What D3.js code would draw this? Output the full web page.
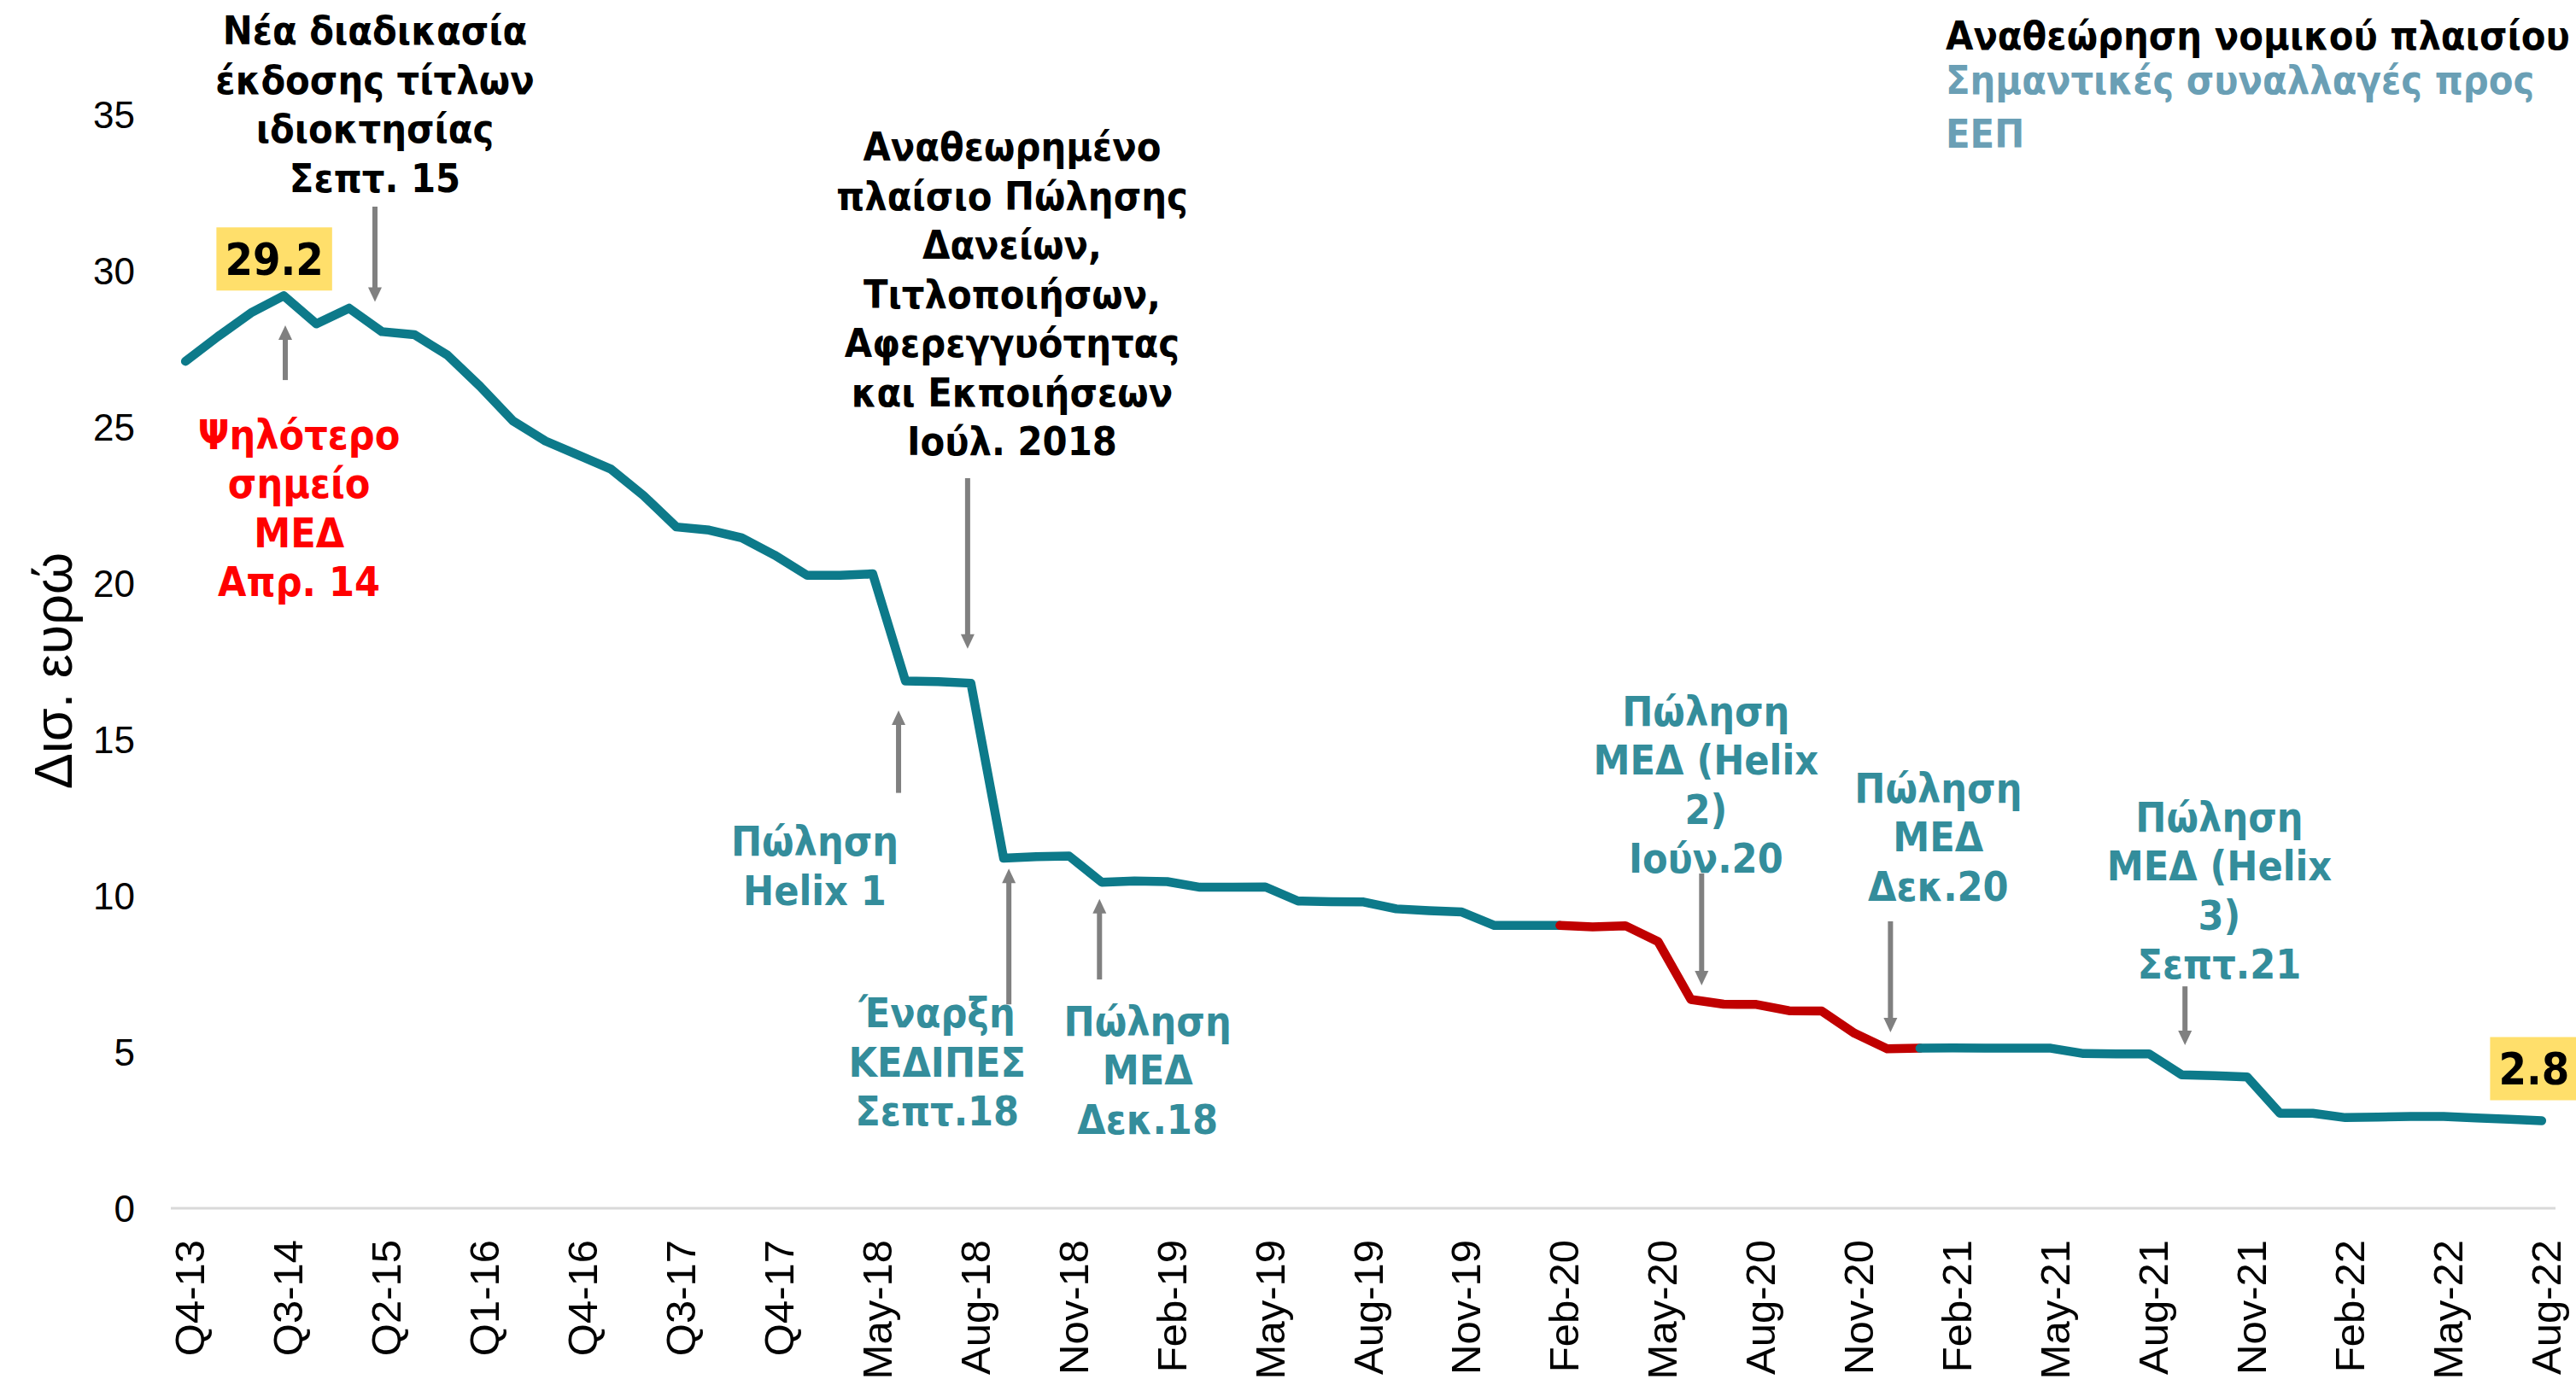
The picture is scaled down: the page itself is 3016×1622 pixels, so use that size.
<!DOCTYPE html>
<html>
<head>
<meta charset="utf-8">
<script src="https://cdnjs.cloudflare.com/ajax/libs/d3/7.8.5/d3.min.js"></script>
<style>
  body { margin: 0; background: #fff; }
  svg { display: block; }
  .note { font-family: "DejaVu Sans Condensed", "DejaVu Sans", sans-serif; font-stretch: condensed; font-weight: bold; }
</style>
</head>
<body>
<div id="chart"></div>
<script>
/**
 * DATA
 * */
const categories = [
  "Q4-13", "Q1-14", "Q2-14", "Q3-14", "Q4-14", "Q1-15", "Q2-15", "Q3-15", "Q4-15",
  "Q1-16", "Q2-16", "Q3-16", "Q4-16", "Q1-17", "Q2-17", "Q3-17", "Oct-17", "Nov-17",
  "Q4-17", "Q1-18", "Apr-18", "May-18", "Jun-18", "Jul-18", "Aug-18", "Sep-18", "Oct-18",
  "Nov-18", "Dec-18", "Jan-19", "Feb-19", "Mar-19", "Apr-19", "May-19", "Jun-19", "Jul-19",
  "Aug-19", "Sep-19", "Oct-19", "Nov-19", "Dec-19", "Jan-20", "Feb-20", "Mar-20", "Apr-20",
  "May-20", "Jun-20", "Jul-20", "Aug-20", "Sep-20", "Oct-20", "Nov-20", "Dec-20", "Jan-21",
  "Feb-21", "Mar-21", "Apr-21", "May-21", "Jun-21", "Jul-21", "Aug-21", "Sep-21", "Oct-21",
  "Nov-21", "Dec-21", "Jan-22", "Feb-22", "Mar-22", "Apr-22", "May-22", "Jun-22", "Jul-22",
  "Aug-22"
];

// ΜΕΔ, δισ. ευρώ
const npe = [
  27.1, 27.9, 28.65, 29.2, 28.3, 28.8, 28.05, 27.95, 27.3,
  26.3, 25.2, 24.55, 24.1, 23.65, 22.8, 21.8, 21.7, 21.45,
  20.9, 20.25, 20.25, 20.3, 16.87, 16.85, 16.8, 11.2, 11.25,
  11.27, 10.43, 10.47, 10.45, 10.27, 10.27, 10.28, 9.83, 9.81,
  9.8, 9.58, 9.52, 9.48, 9.05, 9.05, 9.05, 9.0, 9.04,
  8.53, 6.68, 6.53, 6.52, 6.32, 6.31, 5.6, 5.1, 5.12,
  5.13, 5.12, 5.12, 5.12, 4.95, 4.94, 4.94, 4.27, 4.24,
  4.2, 3.04, 3.04, 2.9, 2.92, 2.94, 2.94, 2.89, 2.85,
  2.8
];

// every third category gets a label
const tickLabels = categories.filter((d, i) => i % 3 === 0);
const yTicks = [0, 5, 10, 15, 20, 25, 30, 35];

// red stretch of the line (legal framework revision)
const redFrom = "Feb-20", redTo = "Jan-21";

// value call-outs
const callouts = [
  { cat: "Q3-14", text: "29.2", dx: -11, dy: -43 },
  { cat: "Aug-22", text: "2.8", dx: -9, dy: -61 }
];

// arrows: fractional category position, tail value, tip value
const arrows = [
  { pos: 5.79, from: 32.05, to: 29.0 },
  { pos: 3.05, from: 26.5, to: 28.25 },
  { pos: 23.9, from: 23.36, to: 17.9 },
  { pos: 21.79, from: 13.29, to: 15.93 },
  { pos: 25.16, from: 6.52, to: 10.87 },
  { pos: 27.93, from: 7.32, to: 9.9 },
  { pos: 46.33, from: 10.71, to: 7.13 },
  { pos: 52.1, from: 9.18, to: 5.63 },
  { pos: 61.1, from: 7.1, to: 5.22 }
];

// text notes: centre position, baseline value of first line
const notes = [
  { pos: 5.79, v: 37.24, color: "#000000",
    lines: ["Νέα διαδικασία", "έκδοσης τίτλων", "ιδιοκτησίας", "Σεπτ. 15"] },
  { pos: 3.47, v: 24.3, color: "#FF0000",
    lines: ["Ψηλότερο", "σημείο", "ΜΕΔ", "Απρ. 14"] },
  { pos: 25.26, v: 33.52, color: "#000000",
    lines: ["Αναθεωρημένο", "πλαίσιο Πώλησης", "Δανείων,", "Τιτλοποιήσων,", "Αφερεγγυότητας", "και Εκποιήσεων", "Ιούλ. 2018"] },
  { pos: 19.23, v: 11.28, color: "#348D9B", lines: ["Πώληση", "Helix 1"] },
  { pos: 22.97, v: 5.79, color: "#348D9B", lines: ["Έναρξη", "ΚΕΔΙΠΕΣ", "Σεπτ.18"] },
  { pos: 29.4, v: 5.52, color: "#348D9B", lines: ["Πώληση", "ΜΕΔ", "Δεκ.18"] },
  { pos: 46.46, v: 15.45, color: "#348D9B", lines: ["Πώληση", "ΜΕΔ (Helix", "2)", "Ιούν.20"] },
  { pos: 53.56, v: 12.98, color: "#348D9B", lines: ["Πώληση", "ΜΕΔ", "Δεκ.20"] },
  { pos: 62.15, v: 12.06, color: "#348D9B", lines: ["Πώληση", "ΜΕΔ (Helix", "3)", "Σεπτ.21"] }
];

const legendLines = [
  { text: "Αναθεώρηση νομικού πλαισίου", color: "#000000" },
  { text: "Σημαντικές συναλλαγές προς", color: "#6A9FB5" },
  { text: "ΕΕΠ", color: "#6A9FB5" }
];

/**
 * CONSTANTS
 * */
const width = 3016, height = 1622;
const lineColor = "#0D7A8A", redColor = "#C00000", arrowColor = "#808080";
const lineH = 57.5;

const svg = d3.select("#chart").append("svg")
  .attr("width", width)
  .attr("height", height);

const x = d3.scalePoint()
  .domain(categories)
  .range([198, 2995])
  .padding(0.5);

const y = d3.scaleLinear()
  .domain([0, 35])
  .range([1415, 134]);

const xAt = p => x(categories[0]) + p * x.step();

// y axis ticks (no line)
svg.append("g")
  .selectAll("text")
  .data(yTicks)
  .join("text")
  .attr("x", 158)
  .attr("y", d => y(d))
  .attr("dy", "0.36em")
  .attr("text-anchor", "end")
  .style("font-family", "Liberation Sans, Arial, sans-serif")
  .style("font-size", "44px")
  .text(d => d);

// y label
svg.append("text")
  .attr("transform", `translate(84,${y(17.2)}) rotate(-90)`)
  .attr("text-anchor", "middle")
  .style("font-family", "Liberation Sans, Arial, sans-serif")
  .style("font-size", "63px")
  .text("Δισ. ευρώ");

// x axis baseline
svg.append("line")
  .attr("x1", x.range()[0] + 2)
  .attr("x2", x.range()[1] - 3)
  .attr("y1", y(0))
  .attr("y2", y(0))
  .attr("stroke", "#D9D9D9")
  .attr("stroke-width", 3);

// x tick labels
svg.append("g")
  .selectAll("text")
  .data(tickLabels)
  .join("text")
  .attr("transform", d => `translate(${x(d)},${y(0) + 37}) rotate(-90)`)
  .attr("y", 22)
  .attr("text-anchor", "end")
  .style("font-family", "Liberation Sans, Arial, sans-serif")
  .style("font-size", "49px")
  .text(d => d);

// line
const series = categories.map((c, i) => ({ cat: c, i, v: npe[i] }));
const i0 = categories.indexOf(redFrom), i1 = categories.indexOf(redTo);

const line = d3.line()
  .x(d => x(d.cat))
  .y(d => y(d.v));

const segs = [
  { data: series.slice(0, i0 + 1), color: lineColor },
  { data: series.slice(i0, i1 + 1), color: redColor },
  { data: series.slice(i1), color: lineColor }
];

svg.append("g")
  .selectAll("path")
  .data(segs)
  .join("path")
  .attr("d", d => line(d.data))
  .attr("fill", "none")
  .attr("stroke", d => d.color)
  .attr("stroke-width", 10.5)
  .attr("stroke-linejoin", "round")
  .attr("stroke-linecap", "round");

// arrows
const arrowG = svg.append("g")
  .selectAll("g")
  .data(arrows)
  .join("g");

arrowG.append("line")
  .attr("x1", d => xAt(d.pos))
  .attr("x2", d => xAt(d.pos))
  .attr("y1", d => y(d.from))
  .attr("y2", d => y(d.to) + (d.to > d.from ? 14 : -14))
  .attr("stroke", arrowColor)
  .attr("stroke-width", 6);

arrowG.append("path")
  .attr("fill", arrowColor)
  .attr("d", d => {
    const ax = xAt(d.pos), ty = y(d.to);
    const s = d.to > d.from ? 1 : -1; // up : down
    return `M${ax},${ty} L${ax - 8},${ty + s * 17} L${ax + 8},${ty + s * 17} Z`;
  });

// notes
svg.append("g")
  .selectAll("text")
  .data(notes)
  .join("text")
  .attr("class", "note")
  .attr("text-anchor", "middle")
  .style("font-size", d => d.color === "#000000" ? "46.5px" : "48px")
  .attr("fill", d => d.color)
  .each(function (d) {
    d3.select(this).selectAll("tspan")
      .data(d.lines)
      .join("tspan")
      .attr("x", xAt(d.pos))
      .attr("y", (l, k) => y(d.v) + k * lineH)
      .text(l => l);
  });

// callouts
const cg = svg.append("g")
  .selectAll("g")
  .data(callouts)
  .join("g")
  .attr("transform", d => `translate(${x(d.cat) + d.dx},${y(npe[categories.indexOf(d.cat)]) + d.dy})`);

cg.append("rect").attr("fill", "#FFDF6B");
cg.append("text")
  .attr("class", "note")
  .attr("text-anchor", "middle")
  .attr("dy", "0.36em")
  .style("font-size", "52px")
  .text(d => d.text);
cg.each(function () {
  const b = d3.select(this).select("text").node().getBBox();
  d3.select(this).select("rect")
    .attr("x", b.x - 10).attr("width", b.width + 20)
    .attr("y", -37).attr("height", 74);
});

// legend
svg.append("g")
  .selectAll("text")
  .data(legendLines)
  .join("text")
  .attr("class", "note")
  .attr("x", 2278)
  .attr("y", (d, i) => [58, 110, 173][i])
  .style("font-size", "46.5px")
  .attr("fill", d => d.color)
  .text(d => d.text);
</script>
</body>
</html>
